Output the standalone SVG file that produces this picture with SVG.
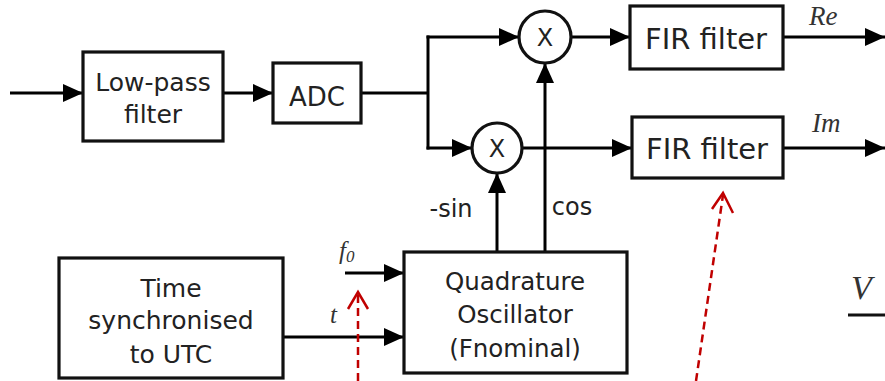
<svg xmlns="http://www.w3.org/2000/svg" width="885" height="381" viewBox="0 0 885 381">
<defs>
<marker id="ah" markerUnits="userSpaceOnUse" markerWidth="22" markerHeight="20" refX="20" refY="9" orient="auto">
<path d="M0,0 L20,9 L0,18 z" fill="#000"/>
</marker>
</defs>
<style>
.box{fill:#fff;stroke:#111;stroke-width:3.2}
.lbl{font-family:"DejaVu Sans",sans-serif;fill:#222;text-anchor:middle}
.it{font-family:"Liberation Serif",serif;font-style:italic;fill:#333}
.c{fill:none;stroke:#000;stroke-width:3}
.ca{fill:none;stroke:#000;stroke-width:3;marker-end:url(#ah)}
.red{fill:none;stroke:#c00000;stroke-width:2.5}
.dash{stroke-dasharray:8 5}
</style>
<rect width="885" height="381" fill="#fff"/>
<g id="connectors">
<line class="ca" x1="10" y1="93" x2="83" y2="93"/>
<line class="ca" x1="223" y1="93" x2="273" y2="93"/>
<polyline class="c" points="361,93 428,93"/>
<line class="c" x1="428" y1="35.5" x2="428" y2="149.5"/>
<line class="ca" x1="426.5" y1="37" x2="519" y2="37"/>
<line class="ca" x1="426.5" y1="148" x2="472" y2="148"/>
<line class="ca" x1="571" y1="37" x2="630" y2="37"/>
<line class="ca" x1="522" y1="148" x2="632" y2="148"/>
<line class="ca" x1="783" y1="37" x2="885" y2="37"/>
<line class="ca" x1="783" y1="148" x2="885" y2="148"/>
<line class="ca" x1="545" y1="252" x2="545" y2="63"/>
<line class="ca" x1="497" y1="252" x2="497" y2="173"/>
<line class="ca" x1="345" y1="273" x2="404" y2="273"/>
<line class="ca" x1="283" y1="337" x2="404" y2="337"/>
<text class="lbl" x="451" y="217" font-size="24">-sin</text>
<text class="lbl" x="572" y="215" font-size="24">cos</text>
<text class="it" x="809" y="25" font-size="27">Re</text>
<text class="it" x="812" y="132" font-size="27">Im</text>
<text class="it" x="339" y="259" font-size="25">f<tspan font-size="17" dy="3">0</tspan></text>
<text class="it" x="330" y="323" font-size="25">t</text>
</g>
<g id="lowpass">
<rect class="box" x="83" y="52" width="140" height="89"/>
<text class="lbl" x="153" y="91" font-size="25">Low-pass</text>
<text class="lbl" x="153" y="123" font-size="25">filter</text>
</g>
<g id="adc">
<rect class="box" x="273" y="63" width="88" height="60"/>
<text class="lbl" x="317" y="106" font-size="26">ADC</text>
</g>
<g id="mix1">
<circle class="box" cx="545" cy="37" r="26"/>
<text class="lbl" x="545" y="46" font-size="24">X</text>
</g>
<g id="mix2">
<circle class="box" cx="497" cy="148" r="25"/>
<text class="lbl" x="497" y="157" font-size="24">X</text>
</g>
<g id="fir1">
<rect class="box" x="630" y="6" width="153" height="63"/>
<text class="lbl" x="706" y="49" font-size="29">FIR filter</text>
</g>
<g id="fir2">
<rect class="box" x="632" y="117" width="151" height="61"/>
<text class="lbl" x="707" y="159" font-size="29">FIR filter</text>
</g>
<g id="time">
<rect class="box" x="59" y="258" width="224" height="120"/>
<text class="lbl" x="171" y="297" font-size="25">Time</text>
<text class="lbl" x="171" y="329" font-size="25">synchronised</text>
<text class="lbl" x="171" y="363" font-size="25">to UTC</text>
</g>
<g id="osc">
<rect class="box" x="404" y="252" width="223" height="121"/>
<text class="lbl" x="515" y="290" font-size="24.5">Quadrature</text>
<text class="lbl" x="515" y="323" font-size="24.5">Oscillator</text>
<text class="lbl" x="515" y="357" font-size="24.5">(Fnominal)</text>
</g>
<g id="vlabel">
<text class="it" x="851" y="299" font-size="34">V</text>
<line x1="848" y1="315" x2="885" y2="315" stroke="#111" stroke-width="3"/>
</g>
<g id="annotations">
<line class="red dash" x1="358" y1="381" x2="358" y2="294"/>
<polyline class="red" points="348,309 358,292 368,309"/>
<line class="red dash" x1="696" y1="381" x2="723" y2="195"/>
<polyline class="red" points="712,209 723,193 733,213"/>
</g>
</svg>
